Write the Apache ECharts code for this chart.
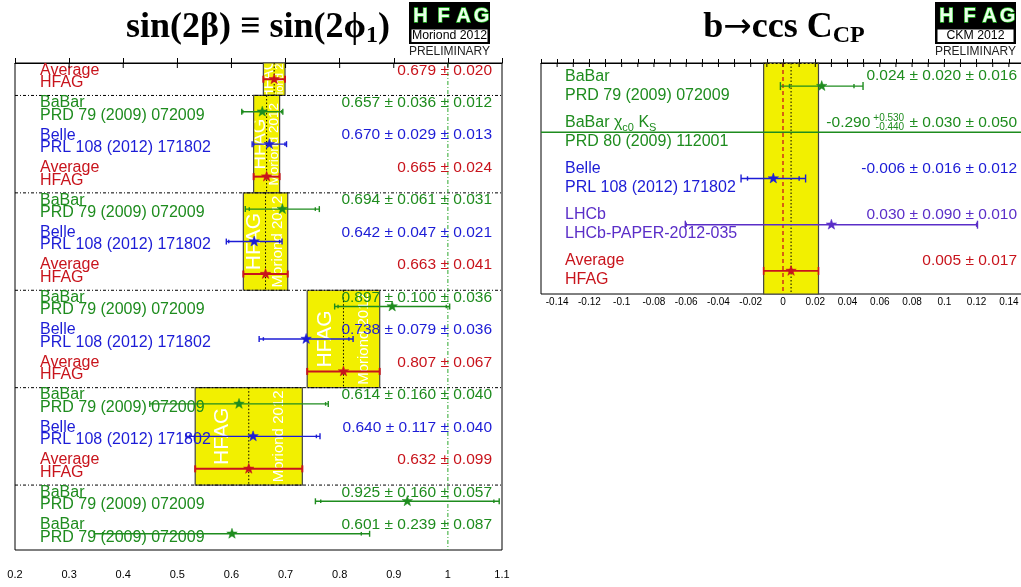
<!DOCTYPE html>
<html><head><meta charset="utf-8">
<script src="https://cdn.jsdelivr.net/npm/echarts@6/dist/echarts.min.js"></script>
<style>html,body{margin:0;padding:0;background:#fff}#c{width:1021px;height:587px}</style>
</head><body><div id="c"></div><script>
// ---------- Left panel: sin(2beta) ----------
const leftNames = ['Average','BaBar','Belle','Average','BaBar','Belle','Average','BaBar','Belle','Average','BaBar','Belle','Average','BaBar','BaBar'];
const leftRefs = ['HFAG','PRD 79 (2009) 072009','PRL 108 (2012) 171802','HFAG','PRD 79 (2009) 072009','PRL 108 (2012) 171802','HFAG','PRD 79 (2009) 072009','PRL 108 (2012) 171802','HFAG','PRD 79 (2009) 072009','PRL 108 (2012) 171802','HFAG','PRD 79 (2009) 072009','PRD 79 (2009) 072009'];
const leftValues = [0.679,0.657,0.670,0.665,0.694,0.642,0.663,0.897,0.738,0.807,0.614,0.640,0.632,0.925,0.601];
const leftStat   = [0.020,0.036,0.029,0.024,0.061,0.047,0.041,0.100,0.079,0.067,0.160,0.117,0.099,0.160,0.239];
const leftSyst   = [null,0.012,0.013,null,0.031,0.021,null,0.036,0.036,null,0.040,0.040,null,0.057,0.087];
const leftSectionRows = [[0,1],[1,4],[4,7],[7,10],[10,13]];
const leftSectionAverage = [0,3,6,9,12];
const leftSeparators = [1,4,7,10,13];
const leftReference = 1.0;
const leftBandTexts = ['HFAG','Moriond 2012'];
const leftTopTicks = [0.3,0.4,0.5,0.6,0.7,0.8,0.9,1.0];

// ---------- Right panel: b->ccs C_CP ----------
const rightNames = ['BaBar','BaBar χc0 KS','Belle','LHCb','Average'];
const rightRefs = ['PRD 79 (2009) 072009','PRD 80 (2009) 112001','PRL 108 (2012) 171802','LHCb-PAPER-2012-035','HFAG'];
const rightValues = [0.024,-0.290,-0.006,0.030,0.005];
const rightStatHi = [0.020,0.530,0.016,0.090,0.017];
const rightStatLo = [0.020,0.440,0.016,0.090,0.017];
const rightSyst1  = [0.016,0.030,0.012,0.010,null];
const rightSyst2  = [null,0.050,null,null,null];
const rightAverageRow = 4;
const rightTopTicks = [-0.14,-0.13,-0.12,-0.11,-0.1,-0.09,-0.08,-0.07,-0.06,-0.05,-0.04,-0.03,-0.02,-0.01,0,0.01,0.02,0.03,0.04,0.05,0.06,0.07,0.08,0.09,0.1,0.11,0.12,0.13,0.14];

const GREEN='#1e8c1e', BLUE='#1c1cd6', RED='#c8141c', PURPLE='#5a2ec8', YELLOW='#f2f000';
const SANS = '"Liberation Sans", Arial, sans-serif';
const SERIF = '"Liberation Serif", "Times New Roman", serif';
function colorFor(n){ if(n.indexOf('BaBar')===0) return GREEN; if(n==='Belle') return BLUE; if(n==='LHCb') return PURPLE; return RED; }
const mctx = document.createElement('canvas').getContext('2d');
function tw(t, font){ mctx.font = font; return mctx.measureText(t).width; }

function star(cx, cy, R, r, color){
  const pts=[]; for(let k=0;k<10;k++){const a=-Math.PI/2+k*Math.PI/5; const rr=k%2?r:R; pts.push([cx+rr*Math.cos(a), cy+rr*Math.sin(a)]);}
  return {type:'polygon', shape:{points:pts}, style:{fill:color, stroke:color, lineWidth:0.5}};
}
function errGroup(api, v, y, lo, hi, sLo, sHi, color, xmin, xmax, capOut, capIn, lw){
  const ch=[];
  const a=api.coord([Math.max(lo,xmin), y]), b=api.coord([Math.min(hi,xmax), y]);
  ch.push({type:'line', shape:{x1:a[0],y1:a[1],x2:b[0],y2:b[1]}, style:{stroke:color, lineWidth:lw}});
  const cap=(x,h)=>{ if(x<xmin||x>xmax) return; const p=api.coord([x,y]); ch.push({type:'line', shape:{x1:p[0],y1:p[1]-h,x2:p[0],y2:p[1]+h}, style:{stroke:color, lineWidth:lw}}); };
  cap(lo,capOut); cap(hi,capOut);
  if(sLo!=null){ cap(sLo,capIn); cap(sHi,capIn); }
  if(v>=xmin && v<=xmax){ const c=api.coord([v,y]); ch.push(star(c[0],c[1],5.5,2.2,color)); }
  return {type:'group', children:ch};
}
function topTickSeries(xi, yi, ticks, len){
  return {type:'custom', xAxisIndex:xi, yAxisIndex:yi, z:6, data:ticks.map(t=>[t,0]),
    renderItem:(params, api)=>{ const p=api.coord([ticks[params.dataIndex],0]);
      return {type:'line', shape:{x1:p[0],y1:p[1],x2:p[0],y2:p[1]+len}, style:{stroke:'#000', lineWidth:1}}; }};
}

const LXMIN=0.2, LXMAX=1.1, RXMIN=-0.15, RXMAX=0.15;

const option = {
  animation:false,
  backgroundColor:'#fff',
  grid:[
    {left:15, top:63, width:487, height:487, show:true, borderColor:'#000', borderWidth:1, backgroundColor:'transparent', containLabel:false, outerBoundsMode:'none'},
    {left:541, top:63, width:484, height:231, show:true, borderColor:'#000', borderWidth:1, backgroundColor:'transparent', containLabel:false, outerBoundsMode:'none'}
  ],
  xAxis:[
    {gridIndex:0, type:'value', min:LXMIN, max:LXMAX, interval:0.1, position:'bottom',
     axisLine:{show:true, lineStyle:{color:'#000', width:1}}, axisTick:{inside:true, length:5, lineStyle:{color:'#000'}},
     axisLabel:{margin:19, fontSize:11, color:'#000', fontFamily:SANS, formatter:v=>String(+v.toFixed(2))}, splitLine:{show:false}},
    {gridIndex:1, type:'value', min:RXMIN, max:RXMAX, interval:0.01, position:'bottom',
     axisLine:{show:true, lineStyle:{color:'#000'}}, axisTick:{inside:true, length:4, lineStyle:{color:'#000'}},
     axisLabel:{margin:3, fontSize:10, color:'#000', fontFamily:SANS, showMinLabel:true, showMaxLabel:true,
       formatter:v=>{const k=Math.round(v*100); if(k%2!==0) return ''; return String(+(k/100).toFixed(2));}}, splitLine:{show:false}}
  ],
  yAxis:[
    {gridIndex:0, type:'value', min:0, max:leftNames.length, inverse:true, show:false},
    {gridIndex:1, type:'value', min:0, max:rightNames.length, inverse:true, show:false}
  ],
  graphic:[
    {type:'text', x:258, y:28, z:10, style:{text:'{a|sin(2β) ≡ sin(2ϕ}{b|1}{a|)}', align:'center', verticalAlign:'middle', textAlign:'center', textVerticalAlign:'middle', fill:'#000',
      rich:{a:{fontFamily:SERIF, fontWeight:'bold', fontSize:36, lineHeight:40, fill:'#000'},
            b:{fontFamily:SERIF, fontWeight:'bold', fontSize:24, verticalAlign:'bottom', fill:'#000'}}}},
    {type:'text', x:784, y:28, z:10, style:{text:'{a|b}{r|→}{a|ccs C}{b|CP}', align:'center', verticalAlign:'middle', textAlign:'center', textVerticalAlign:'middle', fill:'#000',
      rich:{a:{fontFamily:SERIF, fontWeight:'bold', fontSize:36, lineHeight:40, fill:'#000'},
            r:{fontFamily:'"DejaVu Sans", sans-serif', fontSize:34, fill:'#000'},
            b:{fontFamily:SERIF, fontWeight:'bold', fontSize:24, verticalAlign:'bottom', fill:'#000'}}}}
  ],
  series:[]
};

function addLogo(x0, sub){
  const g = option.graphic;
  g.push({type:'rect', shape:{x:x0, y:2, width:81, height:42}, style:{fill:'#000'}, z:10});
  g.push({type:'rect', shape:{x:x0+2.5, y:29.5, width:76, height:12.5}, style:{fill:'#fff'}, z:11});
  const offs=[11.5,34.5,54.5,72.5], L=['H','F','A','G'];
  L.forEach((c,k)=>g.push({type:'text', x:x0+offs[k], y:16.5, z:12, style:{text:c, font:'bold 20px '+SANS, fill:'#eaffea', stroke:'#22c022', lineWidth:1.3, align:'center', verticalAlign:'middle', textAlign:'center', textVerticalAlign:'middle'}}));
  g.push({type:'text', x:x0+40.5, y:36, z:12, style:{text:sub, font:'12.3px '+SANS, fill:'#000', align:'center', verticalAlign:'middle', textAlign:'center', textVerticalAlign:'middle'}});
  g.push({type:'text', x:x0+40.5, y:51.5, z:12, style:{text:'PRELIMINARY', font:'12px '+SANS, fill:'#222', align:'center', verticalAlign:'middle', textAlign:'center', textVerticalAlign:'middle'}});
}
addLogo(409,'Moriond 2012');
addLogo(935,'CKM 2012');

// ---- left: bands ----
option.series.push({type:'custom', xAxisIndex:0, yAxisIndex:0, z:2,
  data: leftSectionAverage.map((r,k)=>[leftValues[r], leftSectionRows[k][0], leftSectionRows[k][1]]),
  renderItem:(params, api)=>{
    const k=params.dataIndex, r=leftSectionAverage[k];
    const v=leftValues[r], e=leftStat[r], rows=leftSectionRows[k];
    const p1=api.coord([v-e, rows[0]]), p2=api.coord([v+e, rows[1]]);
    const w=p2[0]-p1[0], h=p2[1]-p1[1], cy=(p1[1]+p2[1])/2;
    const cx=api.coord([v,0])[0];
    const f1=Math.min(21, w*0.72), f2=Math.min(15, w*0.52);
    return {type:'group', children:[
      {type:'rect', shape:{x:p1[0], y:p1[1], width:w, height:h}, style:{fill:YELLOW, stroke:'#444', lineWidth:1.2}},
      {type:'group', clipPath:{type:'rect', shape:{x:p1[0]+1, y:p1[1]+1, width:w-2, height:h-2}}, children:[
        {type:'text', x:p1[0]+w*0.25, y:cy, rotation:Math.PI/2, style:{text:leftBandTexts[0], font:f1+'px '+SANS, fill:'#fff', align:'center', verticalAlign:'middle', textAlign:'center', textVerticalAlign:'middle'}},
        {type:'text', x:p1[0]+w*0.78, y:cy, rotation:Math.PI/2, style:{text:leftBandTexts[1], font:f2+'px '+SANS, fill:'#fff', align:'center', verticalAlign:'middle', textAlign:'center', textVerticalAlign:'middle'}}
      ]},
      {type:'line', shape:{x1:cx, y1:p1[1], x2:cx, y2:p2[1]}, style:{stroke:'#000', lineWidth:1, lineDash:[1.5,2]}}
    ]};
  }});
// ---- left: separators + reference line ----
option.series.push({type:'custom', xAxisIndex:0, yAxisIndex:0, z:3,
  data: leftSeparators.map(s=>[LXMIN, s]),
  renderItem:(params, api)=>{
    const s=leftSeparators[params.dataIndex];
    const a=api.coord([LXMIN,s]), b=api.coord([LXMAX,s]);
    return {type:'line', shape:{x1:a[0],y1:a[1],x2:b[0],y2:b[1]}, style:{stroke:'#000', lineWidth:1, lineDash:[3,2,1,2]}};
  }});
option.series.push({type:'custom', xAxisIndex:0, yAxisIndex:0, z:3,
  data:[[leftReference,0]],
  renderItem:(params, api)=>{
    const a=api.coord([leftReference,0]), b=api.coord([leftReference,leftNames.length]);
    return {type:'line', shape:{x1:a[0],y1:a[1],x2:b[0],y2:b[1]}, style:{stroke:'#2fa82f', lineWidth:1, lineDash:[4,2,1,2]}};
  }});
option.series.push(topTickSeries(0,0,leftTopTicks,5));
// ---- left: texts ----
option.series.push({type:'custom', xAxisIndex:0, yAxisIndex:0, z:4,
  data: leftValues.map((v,i)=>[v,i+0.5]),
  renderItem:(params, api)=>{
    const i=params.dataIndex, col=colorFor(leftNames[i]);
    const pl=api.coord([LXMIN,i+0.5]), pr=api.coord([LXMAX,i+0.5]);
    let val=leftValues[i].toFixed(3)+' ± '+leftStat[i].toFixed(3);
    if(leftSyst[i]!=null) val+=' ± '+leftSyst[i].toFixed(3);
    const st={fill:col, align:'left', verticalAlign:'middle', textAlign:'left', textVerticalAlign:'middle'};
    return {type:'group', children:[
      {type:'text', x:pl[0]+25, y:pl[1]-9, style:Object.assign({text:leftNames[i], font:'16px '+SANS}, st)},
      {type:'text', x:pl[0]+25, y:pl[1]+3.5, style:Object.assign({text:leftRefs[i], font:'16px '+SANS}, st)},
      {type:'text', x:pr[0]-10, y:pr[1]-9, style:{text:val, font:'15.5px '+SANS, fill:col, align:'right', verticalAlign:'middle', textAlign:'right', textVerticalAlign:'middle'}}
    ]};
  }});
// ---- left: error bars ----
option.series.push({type:'custom', xAxisIndex:0, yAxisIndex:0, z:5,
  data: leftValues.map((v,i)=>[v,i+0.5]),
  renderItem:(params, api)=>{
    const i=params.dataIndex, v=leftValues[i], s=leftStat[i], sy=leftSyst[i], col=colorFor(leftNames[i]);
    const tot = sy==null ? s : Math.sqrt(s*s+sy*sy);
    const isAvg = sy==null;
    return errGroup(api, v, i+0.5, v-tot, v+tot, isAvg?null:v-s, isAvg?null:v+s, col, LXMIN, LXMAX, isAvg?3.5:3, 1.8, isAvg?2:1.4);
  }});

// ---- right: band ----
option.series.push({type:'custom', xAxisIndex:1, yAxisIndex:1, z:2,
  data:[[rightValues[rightAverageRow],0]],
  renderItem:(params, api)=>{
    const v=rightValues[rightAverageRow], e=rightStatHi[rightAverageRow];
    const p1=api.coord([v-e,0]), p2=api.coord([v+e,rightNames.length]);
    const z0=api.coord([0,0]), z1=api.coord([0,rightNames.length]);
    const c=api.coord([v,0])[0];
    return {type:'group', children:[
      {type:'rect', shape:{x:p1[0], y:p1[1], width:p2[0]-p1[0], height:p2[1]-p1[1]}, style:{fill:YELLOW, stroke:'#444', lineWidth:1.2}},
      {type:'line', shape:{x1:z0[0],y1:z0[1],x2:z1[0],y2:z1[1]}, style:{stroke:RED, lineWidth:1.3, lineDash:[4,3]}},
      {type:'line', shape:{x1:c,y1:p1[1],x2:c,y2:p2[1]}, style:{stroke:'#000', lineWidth:1, lineDash:[1.5,2]}},
      {type:'line', shape:{x1:p1[0],y1:p1[1]+0.5,x2:p2[0],y2:p1[1]+0.5}, style:{stroke:'#000', lineWidth:1, lineDash:[2,2]}}
    ]};
  }});
option.series.push(topTickSeries(1,1,rightTopTicks,4));
// ---- right: texts ----
option.series.push({type:'custom', xAxisIndex:1, yAxisIndex:1, z:4,
  data: rightValues.map((v,i)=>[RXMIN,i+0.5]),
  renderItem:(params, api)=>{
    const i=params.dataIndex, col=colorFor(rightNames[i].split(' ')[0]);
    const pl=api.coord([RXMIN,i+0.5]), pr=api.coord([RXMAX,i+0.5]);
    const ch=[];
    const X=Math.min(pr[0]-5,1017), y=pl[1]-10;
    const F='15.5px '+SANS, FS='10px '+SANS;
    if(rightNames[i].indexOf('χc0')>0){
      ch.push({type:'text', x:pl[0]+24, y:y, style:{text:'{n|BaBar χ}{s|c0}{n| K}{s|S}', fill:col, align:'left', verticalAlign:'middle', textAlign:'left', textVerticalAlign:'middle',
        rich:{n:{fontSize:16, fontFamily:SANS, lineHeight:22, fill:col}, s:{fontSize:11, fontFamily:SANS, verticalAlign:'bottom', fill:col}}}});
    } else {
      ch.push({type:'text', x:pl[0]+24, y:y, style:{text:rightNames[i], font:'16px '+SANS, fill:col, align:'left', verticalAlign:'middle', textAlign:'left', textVerticalAlign:'middle'}});
    }
    ch.push({type:'text', x:pl[0]+24, y:pl[1]+9, style:{text:rightRefs[i], font:'16px '+SANS, fill:col, align:'left', verticalAlign:'middle', textAlign:'left', textVerticalAlign:'middle'}});
    const rs={fill:col, align:'right', verticalAlign:'middle', textAlign:'right', textVerticalAlign:'middle'};
    if(rightStatHi[i]!==rightStatLo[i]){
      let tail=' ± '+rightSyst1[i].toFixed(3); if(rightSyst2[i]!=null) tail+=' ± '+rightSyst2[i].toFixed(3);
      const w3=tw(tail,F);
      const up='+'+rightStatHi[i].toFixed(3), dn='-'+rightStatLo[i].toFixed(3);
      const ws=Math.max(tw(up,FS),tw(dn,FS));
      ch.push({type:'text', x:X, y:y, style:Object.assign({text:tail, font:F}, rs)});
      ch.push({type:'text', x:X-w3-1, y:y-4.5, style:Object.assign({text:up, font:FS}, rs)});
      ch.push({type:'text', x:X-w3-1, y:y+5, style:Object.assign({text:dn, font:FS}, rs)});
      ch.push({type:'text', x:X-w3-ws-4, y:y, style:Object.assign({text:rightValues[i].toFixed(3), font:F}, rs)});
    } else {
      let val=rightValues[i].toFixed(3)+' ± '+rightStatHi[i].toFixed(3);
      if(rightSyst1[i]!=null) val+=' ± '+rightSyst1[i].toFixed(3);
      if(rightSyst2[i]!=null) val+=' ± '+rightSyst2[i].toFixed(3);
      ch.push({type:'text', x:X, y:y, style:Object.assign({text:val, font:F}, rs)});
    }
    return {type:'group', children:ch};
  }});
// ---- right: error bars ----
option.series.push({type:'custom', xAxisIndex:1, yAxisIndex:1, z:5,
  data: rightValues.map((v,i)=>[v,i+0.5]),
  renderItem:(params, api)=>{
    const i=params.dataIndex, v=rightValues[i], col=colorFor(rightNames[i].split(' ')[0]);
    const s1=rightSyst1[i]||0, s2=rightSyst2[i]||0;
    const hasSyst = rightSyst1[i]!=null;
    const hi=Math.sqrt(rightStatHi[i]**2+s1*s1+s2*s2), lo=Math.sqrt(rightStatLo[i]**2+s1*s1+s2*s2);
    return errGroup(api, v, i+0.5, v-lo, v+hi, hasSyst?v-rightStatLo[i]:null, hasSyst?v+rightStatHi[i]:null, col, RXMIN, RXMAX, 4, 2.2, hasSyst?1.4:1.6);
  }});

const chart = echarts.init(document.getElementById('c'), null, {renderer:'canvas', width:1021, height:587});
chart.setOption(option);
</script></body></html>
